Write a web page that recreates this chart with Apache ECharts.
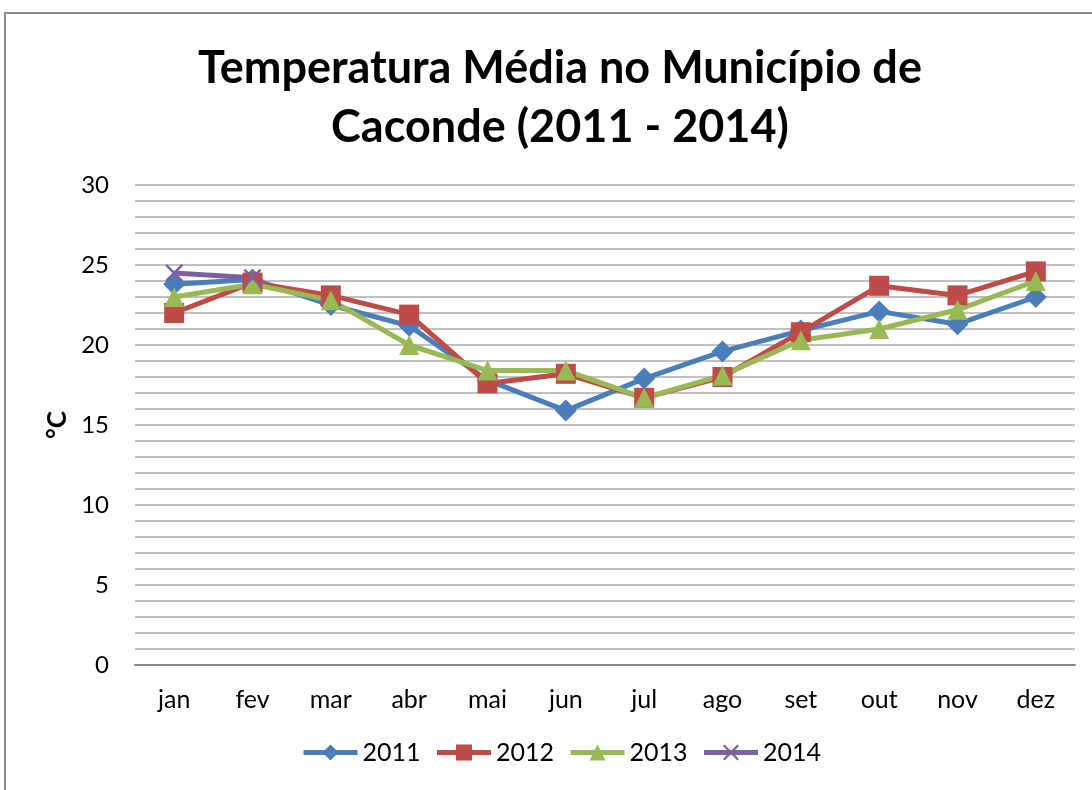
<!DOCTYPE html>
<html>
<head>
<meta charset="utf-8">
<script src="https://cdn.jsdelivr.net/npm/echarts@6/dist/echarts.min.js"></script>
<style>
html, body { margin: 0; padding: 0; background: #fff; }
#main { width: 1092px; height: 790px; }
</style>
</head>
<body>
<div id="main"></div>
<script>
var months = ['jan', 'fev', 'mar', 'abr', 'mai', 'jun', 'jul', 'ago', 'set', 'out', 'nov', 'dez'];
var t2011 = [23.8, 24.1, 22.5, 21.2, 17.8, 15.9, 17.9, 19.6, 20.9, 22.1, 21.3, 23.0];
var t2012 = [22.0, 23.9, 23.1, 21.9, 17.6, 18.2, 16.7, 18.0, 20.8, 23.7, 23.1, 24.6];
var t2013 = [23.0, 23.8, 22.8, 20.0, 18.4, 18.4, 16.7, 18.1, 20.3, 21.0, 22.2, 24.0];
var t2014 = [24.5, 24.2];

var crossPath = 'path://M0,1 L1,0 L5,4 L9,0 L10,1 L6,5 L10,9 L9,10 L5,6 L1,10 L0,9 L4,5 Z';

~function () {
    var myChart = echarts.init(document.getElementById('main'));
    var font = 'Lato, "Open Sans", sans-serif';
    function line(name, data, color, symbol, size) {
        return {
            name: name,
            type: 'line',
            data: data,
            symbol: symbol,
            symbolSize: size,
            showSymbol: true,
            lineStyle: {width: 5, color: color},
            itemStyle: {color: color},
            z: 2
        };
    }
    var option = {
        backgroundColor: '#fff',
        animation: false,
        textStyle: {fontFamily: font},
        graphic: [{
            type: 'rect',
            shape: {x: 5, y: 13, width: 1200, height: 900},
            style: {fill: 'none', stroke: '#8c8c8c', lineWidth: 2},
            silent: true
        }],
        title: {
            text: 'Temperatura Média no Município de\nCaconde (2011 - 2014)',
            left: 555,
            textAlign: 'center',
            top: 34,
            textStyle: {
                fontFamily: font,
                fontSize: 45,
                fontWeight: 'bold',
                color: '#000',
                lineHeight: 59
            }
        },
        legend: {
            bottom: 20,
            left: 296,
            itemWidth: 54,
            itemHeight: 20,
            itemGap: 14,
            lineStyle: {width: 5},
            textStyle: {fontSize: 25, color: '#000', fontFamily: font},
            data: ['2011', '2012', '2013', '2014']
        },
        grid: {left: 135, right: 17, top: 185, bottom: 125},
        xAxis: {
            type: 'category',
            data: months,
            axisLine: {lineStyle: {color: '#8a8a8a', width: 2}},
            axisTick: {show: false},
            axisLabel: {fontSize: 25, color: '#000', margin: 22, fontFamily: font}
        },
        yAxis: {
            type: 'value',
            min: 0,
            max: 30,
            interval: 1,
            name: '°C',
            nameLocation: 'middle',
            nameGap: 64,
            nameTextStyle: {fontSize: 26, fontWeight: 'bold', color: '#000', fontFamily: font},
            axisLine: {show: false},
            axisTick: {show: false},
            axisLabel: {
                fontSize: 24,
                color: '#000',
                margin: 26,
                fontFamily: font,
                formatter: function (v) { return v % 5 === 0 ? String(v) : ''; }
            },
            splitLine: {lineStyle: {color: '#c0c0c0', width: 2}}
        },
        series: [
            line('2011', t2011, '#4a7ebb', 'diamond', 22),
            line('2012', t2012, '#be4b48', 'rect', 20),
            line('2013', t2013, '#98b954', 'triangle', 20),
            line('2014', t2014, '#7d60a0', crossPath, 18)
        ]
    };
    myChart.setOption(option);
}();
</script>
</body>
</html>
